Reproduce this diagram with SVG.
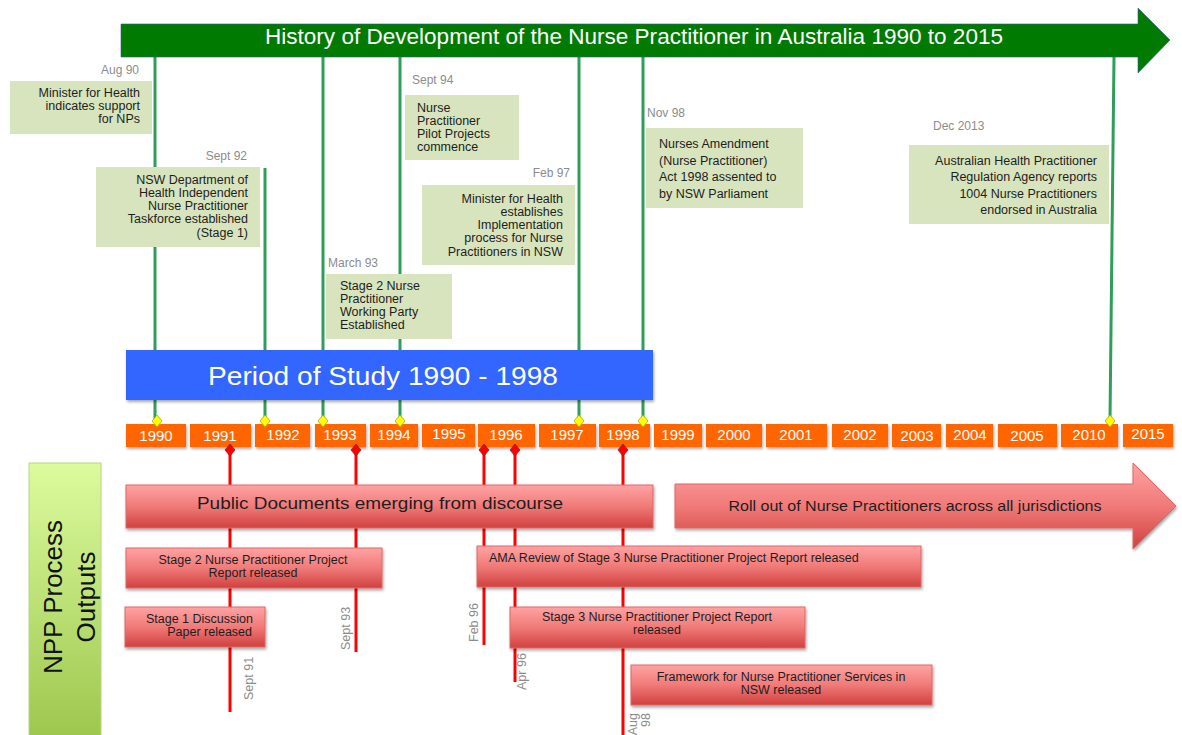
<svg xmlns="http://www.w3.org/2000/svg" width="1182" height="735" viewBox="0 0 1182 735">
<defs>
<linearGradient id="redg" x1="0" y1="0" x2="0" y2="1">
<stop offset="0" stop-color="#ffa3a3"/>
<stop offset="0.5" stop-color="#f07a78"/>
<stop offset="1" stop-color="#d0413f"/>
</linearGradient>
<linearGradient id="nppg" x1="0" y1="0" x2="0" y2="1">
<stop offset="0" stop-color="#dcfb9e"/>
<stop offset="1" stop-color="#9cc64c"/>
</linearGradient>
<filter id="sh" x="-5%" y="-10%" width="110%" height="130%">
<feDropShadow dx="1" dy="2" stdDeviation="1.5" flood-color="#000" flood-opacity="0.35"/>
</filter>
<style>
text{font-family:"Liberation Sans",Arial,sans-serif}
.gbox{fill:#d7e4bd}
.date{font-size:12px;fill:#8c8c8c}
.gt{font-size:12.5px;fill:#1e1e1e}
.gline{stroke:#2f9e5a;stroke-width:3}
.rline{stroke:#ff0000;stroke-width:3}
.year{fill:#ff6600}
.yt{fill:#ffffff;font-size:15px;text-anchor:middle}
.rbox{fill:url(#redg);stroke:#e06666;stroke-width:1}
.rt{font-size:12.5px;fill:#1e1e1e;text-anchor:middle}
.ydia{fill:#ffff00;stroke:#a8a800;stroke-width:0.8}
.rdia{fill:#ff0000;stroke:#8a2030;stroke-width:0.8}
.rl{font-size:12.5px;fill:#8c8c8c}
.r{text-anchor:end}
</style>
</defs>
<rect width="1182" height="735" fill="#ffffff"/>

<g id="connectors">
<line class="gline" x1="155" y1="57" x2="155" y2="420"/>
<line class="gline" x1="265" y1="168" x2="265" y2="420"/>
<line class="gline" x1="323" y1="57" x2="323" y2="420"/>
<line class="gline" x1="400" y1="57" x2="400" y2="420"/>
<line class="gline" x1="579" y1="57" x2="579" y2="420"/>
<line class="gline" x1="643" y1="57" x2="643" y2="420"/>
<line class="gline" x1="1114" y1="57" x2="1110" y2="420"/>
<line class="rline" x1="230" y1="450" x2="230" y2="712"/>
<line class="rline" x1="356" y1="450" x2="356" y2="652"/>
<line class="rline" x1="484" y1="450" x2="484" y2="645"/>
<line class="rline" x1="515" y1="450" x2="515" y2="682"/>
<line class="rline" x1="623" y1="450" x2="623" y2="735"/>
</g>

<g id="title">
<polygon points="121,24 1138,24 1138,8 1170,40 1138,73 1138,57 121,57" fill="#007a00" stroke="#2f5f8f" stroke-width="0.6"/>
<text x="634" y="44" font-size="22" fill="#ffffff" text-anchor="middle" textLength="738" lengthAdjust="spacingAndGlyphs">History of Development of the Nurse Practitioner in Australia 1990 to 2015</text>
</g>

<g id="ev-aug90">
<text class="date r" x="139" y="74">Aug 90</text>
<rect class="gbox" x="10" y="81" width="142" height="53"/>
<text class="gt r" x="140" y="97">Minister for Health</text>
<text class="gt r" x="140" y="110">indicates support</text>
<text class="gt r" x="140" y="123">for NPs</text>
</g>

<g id="ev-sept92">
<text class="date r" x="247" y="160">Sept 92</text>
<rect class="gbox" x="96" y="167" width="164" height="80"/>
<text class="gt r" x="248" y="184">NSW Department of</text>
<text class="gt r" x="248" y="197">Health Independent</text>
<text class="gt r" x="248" y="210">Nurse Practitioner</text>
<text class="gt r" x="248" y="223">Taskforce established</text>
<text class="gt r" x="248" y="237">(Stage 1)</text>
</g>

<g id="ev-sept94">
<text class="date" x="412" y="84">Sept 94</text>
<rect class="gbox" x="405" y="95" width="114" height="65"/>
<text class="gt" x="417" y="112">Nurse</text>
<text class="gt" x="417" y="125">Practitioner</text>
<text class="gt" x="417" y="138">Pilot Projects</text>
<text class="gt" x="417" y="151">commence</text>
</g>

<g id="ev-feb97">
<text class="date r" x="570" y="177">Feb 97</text>
<rect class="gbox" x="422" y="185" width="153" height="80"/>
<text class="gt r" x="563" y="203">Minister for Health</text>
<text class="gt r" x="563" y="216">establishes</text>
<text class="gt r" x="563" y="229">Implementation</text>
<text class="gt r" x="563" y="242">process for Nurse</text>
<text class="gt r" x="563" y="256">Practitioners in NSW</text>
</g>

<g id="ev-mar93">
<text class="date" x="328" y="267">March 93</text>
<rect class="gbox" x="326" y="274" width="126" height="65"/>
<text class="gt" x="340" y="290">Stage 2 Nurse</text>
<text class="gt" x="340" y="303">Practitioner</text>
<text class="gt" x="340" y="316">Working Party</text>
<text class="gt" x="340" y="329">Established</text>
</g>

<g id="ev-nov98">
<text class="date" x="647" y="117">Nov 98</text>
<rect class="gbox" x="646" y="128" width="157" height="80"/>
<text class="gt" x="659" y="148">Nurses Amendment</text>
<text class="gt" x="659" y="165">(Nurse Practitioner)</text>
<text class="gt" x="659" y="181">Act 1998 assented to</text>
<text class="gt" x="659" y="198">by NSW Parliament</text>
</g>

<g id="ev-dec2013">
<text class="date" x="933" y="130">Dec 2013</text>
<rect class="gbox" x="909" y="145" width="200" height="79"/>
<text class="gt r" x="1097" y="165">Australian Health Practitioner</text>
<text class="gt r" x="1097" y="181">Regulation Agency reports</text>
<text class="gt r" x="1097" y="198">1004 Nurse Practitioners</text>
<text class="gt r" x="1097" y="214">endorsed in Australia</text>
</g>

<g id="period">
<rect x="126" y="350" width="527" height="50" fill="#3366ff" filter="url(#sh)"/>
<text x="383" y="385" font-size="26" fill="#ffffff" text-anchor="middle" textLength="350" lengthAdjust="spacingAndGlyphs">Period of Study 1990 - 1998</text>
</g>

<g id="years">
<rect class="year" x="126" y="424" width="60" height="23" filter="url(#sh)"/><text class="yt" x="156" y="441">1990</text>
<rect class="year" x="190" y="424" width="61" height="23" filter="url(#sh)"/><text class="yt" x="220" y="441">1991</text>
<rect class="year" x="255" y="424" width="55" height="23" filter="url(#sh)"/><text class="yt" x="283" y="440">1992</text>
<rect class="year" x="315" y="424" width="51" height="23" filter="url(#sh)"/><text class="yt" x="340" y="440">1993</text>
<rect class="year" x="370" y="424" width="48" height="23" filter="url(#sh)"/><text class="yt" x="394" y="440">1994</text>
<rect class="year" x="422" y="424" width="53" height="23" filter="url(#sh)"/><text class="yt" x="449" y="439">1995</text>
<rect class="year" x="478" y="424" width="57" height="23" filter="url(#sh)"/><text class="yt" x="506" y="440">1996</text>
<rect class="year" x="539" y="424" width="57" height="23" filter="url(#sh)"/><text class="yt" x="567" y="440">1997</text>
<rect class="year" x="599" y="424" width="51" height="23" filter="url(#sh)"/><text class="yt" x="623" y="440">1998</text>
<rect class="year" x="654" y="424" width="48" height="23" filter="url(#sh)"/><text class="yt" x="678" y="440">1999</text>
<rect class="year" x="706" y="424" width="56" height="23" filter="url(#sh)"/><text class="yt" x="734" y="440">2000</text>
<rect class="year" x="766" y="424" width="61" height="23" filter="url(#sh)"/><text class="yt" x="796" y="440">2001</text>
<rect class="year" x="832" y="424" width="56" height="23" filter="url(#sh)"/><text class="yt" x="860" y="440">2002</text>
<rect class="year" x="892" y="424" width="49" height="23" filter="url(#sh)"/><text class="yt" x="917" y="441">2003</text>
<rect class="year" x="946" y="424" width="47" height="23" filter="url(#sh)"/><text class="yt" x="970" y="440">2004</text>
<rect class="year" x="998" y="424" width="59" height="23" filter="url(#sh)"/><text class="yt" x="1027" y="441">2005</text>
<rect class="year" x="1061" y="424" width="57" height="23" filter="url(#sh)"/><text class="yt" x="1089" y="440">2010</text>
<rect class="year" x="1123" y="424" width="50" height="23" filter="url(#sh)"/><text class="yt" x="1148" y="439">2015</text>
<line x1="653" y1="422" x2="653" y2="457" stroke="#ffffff" stroke-width="2"/>
</g>

<g id="markers">
<polygon class="ydia" points="157,415 162,421 157,427 152,421"/>
<polygon class="ydia" points="265,415 270,421 265,427 260,421"/>
<polygon class="ydia" points="323,415 328,421 323,427 318,421"/>
<polygon class="ydia" points="400,415 405,421 400,427 395,421"/>
<polygon class="ydia" points="579,415 584,421 579,427 574,421"/>
<polygon class="ydia" points="643,415 648,421 643,427 638,421"/>
<polygon class="ydia" points="1110,415 1115,421 1110,427 1105,421"/>
<polygon class="rdia" points="230,444 235,450 230,456 225,450"/>
<polygon class="rdia" points="356,444 361,450 356,456 351,450"/>
<polygon class="rdia" points="484,444 489,450 484,456 479,450"/>
<polygon class="rdia" points="515,444 520,450 515,456 510,450"/>
<polygon class="rdia" points="623,444 628,450 623,456 618,450"/>
</g>

<g id="npp">
<rect x="29" y="463" width="72" height="280" fill="url(#nppg)" stroke="#b5d67a" stroke-width="1"/>
<text transform="translate(62,597) rotate(-90)" font-size="26" fill="#111111" text-anchor="middle">NPP Process</text>
<text transform="translate(95,597) rotate(-90)" font-size="26" fill="#111111" text-anchor="middle">Outputs</text>
</g>

<g id="public-docs">
<rect class="rbox" x="126" y="485" width="527" height="43" filter="url(#sh)"/>
<text x="380" y="509" font-size="16" fill="#1e1e1e" text-anchor="middle" textLength="366" lengthAdjust="spacingAndGlyphs">Public Documents emerging from  discourse</text>
</g>

<g id="rollout">
<polygon class="rbox" points="675,484 1133,484 1133,463 1176,506 1133,549 1133,528 675,528" filter="url(#sh)"/>
<text x="915" y="511" font-size="14" fill="#1e1e1e" text-anchor="middle" textLength="373" lengthAdjust="spacingAndGlyphs">Roll out of Nurse Practitioners across all jurisdictions</text>
</g>

<g id="stage2-report">
<rect class="rbox" x="126" y="548" width="256" height="40" filter="url(#sh)"/>
<text class="rt" x="253" y="564">Stage 2 Nurse Practitioner Project</text>
<text class="rt" x="253" y="577">Report released</text>
</g>

<g id="stage1-paper">
<rect class="rbox" x="125" y="607" width="140" height="40" filter="url(#sh)"/>
<text class="rt" x="253" y="623" style="text-anchor:end">Stage 1 Discussion</text>
<text class="rt" x="252" y="636" style="text-anchor:end">Paper released</text>
</g>

<g id="ama-review">
<rect class="rbox" x="477" y="546" width="444" height="41" filter="url(#sh)"/>
<text class="rt" x="489" y="562" style="text-anchor:start">AMA Review of Stage 3 Nurse Practitioner Project Report released</text>
</g>

<g id="stage3-report">
<rect class="rbox" x="510" y="607" width="295" height="41" filter="url(#sh)"/>
<text class="rt" x="657" y="621">Stage 3 Nurse Practitioner Project Report</text>
<text class="rt" x="657" y="634">released</text>
</g>

<g id="framework">
<rect class="rbox" x="631" y="665" width="301" height="40" filter="url(#sh)"/>
<text class="rt" x="781" y="681">Framework for Nurse Practitioner Services in</text>
<text class="rt" x="781" y="694">NSW released</text>
</g>

<g id="red-labels">
<text class="rl" transform="translate(253,700) rotate(-90)">Sept 91</text>
<text class="rl" transform="translate(350,650) rotate(-90)">Sept 93</text>
<text class="rl" transform="translate(478,642) rotate(-90)">Feb 96</text>
<text class="rl" transform="translate(526,690) rotate(-90)">Apr 96</text>
<text class="rl" transform="translate(637,713) rotate(-90)" text-anchor="end">Aug</text>
<text class="rl" transform="translate(650,713) rotate(-90)" text-anchor="end">98</text>
</g>
</svg>
